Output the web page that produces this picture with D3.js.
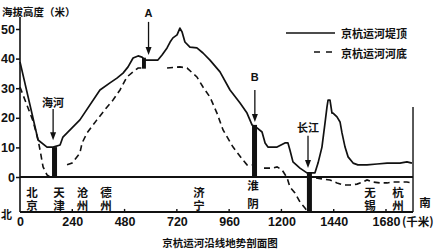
<!DOCTYPE html>
<html><head><meta charset="utf-8">
<script src="https://cdn.jsdelivr.net/npm/d3@7"></script>
<style>html,body{margin:0;padding:0;background:#fff;} svg{display:block;}</style>
</head><body><svg id="c" width="436" height="251"></svg>
<script>
// ---------- data ----------
const xTicks = [0, 240, 480, 720, 960, 1200, 1440, 1680];
const yTicks = [0, 10, 20, 30, 40, 50];
const kmEnd = 1804;      // right end of the profile (km)
const elevFloor = -11.8; // bottom of the chart (m)

// 京杭运河堤顶 (embankment top): [km, m]
const crest = [[0,38.9],[83,12.5],[124,10.1],[152,10.1],[184,10.8],[197,13.5],[275,19.3],[367,29.4],[413,31.8],[445,33.4],[473,35.1],[496,37.2],[519,40.2],[542,40.9],[560,40.5],[574,39.5],[633,39.5],[652,41.2],[675,43.6],[689,45.6],[702,47],[721,48],[734,50.3],[744,49],[757,45.6],[780,43.9],[812,43.6],[840,41.9],[872,39.5],[918,35.5],[964,29.4],[1010,25],[1042,21.6],[1065,17.6],[1088,16.6],[1111,15.2],[1125,11.5],[1138,10.1],[1180,10.1],[1216,11.5],[1230,11.5],[1239,9.1],[1253,5.1],[1285,3],[1317,1.4],[1354,1.4],[1368,4.7],[1386,10.1],[1400,18.2],[1409,23.6],[1414,26],[1423,26],[1432,21.6],[1437,21.6],[1455,20.3],[1469,18.6],[1478,14.9],[1492,10.1],[1506,6.8],[1529,4.7],[1551,4.1],[1593,4.1],[1639,4.4],[1685,4.7],[1712,4.7],[1744,4.7],[1776,5.1],[1799,4.7]];

// 京杭运河河底 (canal bed): [km, m], null marks a break
const bed = [[0,30.4],[60,18.9],[83,12.5],[92,9.1],[106,3.4],[124,0.7],[138,0],[150,0],null,
  [216,4.1],[239,4.7],[275,8.1],[285,11.5],[308,14.9],[353,19.3],[399,23.6],[427,26],[459,29.4],[491,33.8],[519,35.5],[542,36.8],[560,36.8],null,
  [675,36.8],[734,37.2],[767,36.8],[812,33.8],[840,30.4],[872,27],[904,21.6],[932,15.9],[978,10.1],[1024,5.7],[1042,4.1],[1065,4.1],null,
  [1120,3],[1158,3],[1180,3.4],[1203,2.4],[1226,-0.3],[1239,-3.4],[1262,-5.4],[1285,-8.4],[1308,-10.5],[1322,-11.8],null,
  [1359,-0.3],[1391,-0.7],[1423,-1],[1455,-2],[1483,-2.7],[1515,-2.7],[1547,-2.4],[1574,-1.7],[1593,-1],[1620,-1.7],[1652,-2],[1685,-2],[1712,-1.7],[1776,-1.7],[1799,-2]];

// ship locks: km range and elevation range
const lockNames = ['天津', 'A', 'B', '长江'];
const lockKm = [[147,170],[560,578],[1065,1088],[1317,1340]];
const lockElev = [[0,10.1],[36.6,40.3],[0,17.6],[-11.8,1.4]];

// annotation arrows: label, km, text elevation, tail elevation, tip elevation
const arrowLabels = ['海河', 'A', 'B', '长江'];
const arrowKm = [152, 590, 1078, 1322];
const arrowElev = [[25.5,23,12.4],[55.5,52.4,41.2],[33.8,29.4,18.6],[16.9,13.9,3.0]];

// cities along the canal
const cityNames = ['北京','天津','沧州','德州','济宁','淮阴','无锡','杭州'];
const cityKm = [55, 179, 287, 395, 822, 1069, 1607, 1735];

// ---------- drawing ----------
const svg = d3.select('#c');
svg.append('rect').attr('width',436).attr('height',251).attr('fill','#fff');
const x = d3.scaleLinear().domain([0,1680]).range([20,386]);
const y = d3.scaleLinear().domain([0,50]).range([177,29]);
const CJK = '"Noto Sans CJK SC","Noto Sans CJK JP",sans-serif';
const NUM = '"Liberation Sans",Arial,sans-serif';
const ink = '#111';

// frame lines
const x0 = x(0), xE = x(kmEnd), yB = y(elevFloor);
svg.append('line').attr('x1',x0).attr('x2',x0).attr('y1',17).attr('y2',yB).attr('stroke',ink).attr('stroke-width',1.6);
svg.append('line').attr('x1',x0).attr('x2',xE).attr('y1',y(0)).attr('y2',y(0)).attr('stroke',ink).attr('stroke-width',1.8);
svg.append('line').attr('x1',x0).attr('x2',xE).attr('y1',yB).attr('y2',yB).attr('stroke',ink).attr('stroke-width',2);
svg.append('line').attr('x1',xE).attr('x2',xE).attr('y1',107).attr('y2',yB).attr('stroke',ink).attr('stroke-width',1.4);

// y axis
const ya = svg.append('g').attr('transform',`translate(${x0},0)`)
  .call(d3.axisLeft(y).tickValues(yTicks).tickSize(4).tickPadding(1).tickFormat(d3.format('d')));
ya.select('.domain').remove();
ya.selectAll('line').attr('stroke',ink).attr('stroke-width',1.5);
ya.selectAll('text').attr('font-family',NUM).attr('font-weight','bold').attr('font-size',12.5).attr('fill',ink);

// x axis (ticks pointing up, labels below)
const xa = svg.append('g').attr('transform',`translate(0,${yB})`)
  .call(d3.axisBottom(x).tickValues(xTicks).tickSize(0).tickPadding(5).tickFormat(d3.format('d')));
xa.select('.domain').remove();
xa.selectAll('text').attr('font-family',NUM).attr('font-weight','bold').attr('font-size',12.5).attr('fill',ink);
svg.append('g').selectAll('line').data(xTicks.slice(1)).join('line')
  .attr('x1',d=>x(d)).attr('x2',d=>x(d)).attr('y1',yB).attr('y2',yB-3).attr('stroke',ink).attr('stroke-width',1.4);

// axis words
svg.append('text').attr('x',402).attr('y',yB+14).attr('font-family',CJK).attr('font-weight','bold').attr('font-size',11.5).attr('fill',ink).text('(千米)');
svg.append('text').attr('x',1).attr('y',yB+2).attr('dominant-baseline','central').attr('font-family',CJK).attr('font-weight','bold').attr('font-size',11).attr('fill',ink).text('北');
svg.append('text').attr('x',425).attr('y',202).attr('text-anchor','middle').attr('dominant-baseline','central').attr('font-family',CJK).attr('font-weight','bold').attr('font-size',11.5).attr('fill',ink).text('南');
svg.append('text').attr('x',2).attr('y',11).attr('dominant-baseline','central').attr('font-family',CJK).attr('font-weight','bold').attr('font-size',10.5).attr('fill',ink).text('海拔高度（米）');
svg.append('text').attr('x',220).attr('y',242.5).attr('text-anchor','middle').attr('dominant-baseline','central').attr('font-family',CJK).attr('font-weight','bold').attr('font-size',10.5).attr('fill',ink).text('京杭运河沿线地势剖面图');

// profile lines
const line = d3.line().defined(d=>d!==null).x(d=>x(d[0])).y(d=>y(d[1]));
svg.append('path').datum(bed).attr('d',line).attr('fill','none').attr('stroke',ink).attr('stroke-width',1.6).attr('stroke-dasharray','6,4');
svg.append('path').datum(crest).attr('d',line).attr('fill','none').attr('stroke',ink).attr('stroke-width',1.7).attr('stroke-linejoin','round');

// locks
svg.append('g').selectAll('rect').data(lockNames).join('rect')
  .attr('x',(d,i)=>x(lockKm[i][0])).attr('width',(d,i)=>x(lockKm[i][1])-x(lockKm[i][0]))
  .attr('y',(d,i)=>y(lockElev[i][1])).attr('height',(d,i)=>y(lockElev[i][0])-y(lockElev[i][1]))
  .attr('fill',ink);

// arrows
const ag = svg.append('g');
arrowLabels.forEach((lab,i)=>{
  const ax = x(arrowKm[i]);
  const [te,tl,tp] = arrowElev[i];
  const isLetter = lab.length===1;
  ag.append('text').attr('x',ax).attr('y',y(te)).attr('text-anchor','middle').attr('dominant-baseline','central')
    .attr('font-family', isLetter? NUM : CJK).attr('font-weight','bold').attr('font-size',11).attr('fill',ink).text(lab);
  ag.append('line').attr('x1',ax).attr('x2',ax).attr('y1',y(tl)).attr('y2',y(tp)-5).attr('stroke',ink).attr('stroke-width',1.3);
  ag.append('path').attr('d',`M${ax-3},${y(tp)-8}L${ax+3},${y(tp)-8}L${ax},${y(tp)}Z`).attr('fill',ink);
});

// cities (vertical two-character labels, vertical writing mode)
const cityTop = {'淮阴':180};
const citySpacing = {'淮阴':6};
const cg = svg.append('g');
cityNames.forEach((nm,i)=>{
  cg.append('text')
    .attr('x',x(cityKm[i])).attr('y',cityTop[nm] || 187)
    .attr('writing-mode','tb').style('writing-mode','vertical-rl')
    .attr('letter-spacing', citySpacing[nm]!==undefined ? citySpacing[nm] : 1.5)
    .attr('font-family',CJK).attr('font-weight','bold').attr('font-size',11.5).attr('fill',ink).text(nm);
});

// legend
const lg = svg.append('g');
lg.append('line').attr('x1',286).attr('x2',335).attr('y1',33).attr('y2',33).attr('stroke',ink).attr('stroke-width',1.7);
lg.append('line').attr('x1',314).attr('x2',336).attr('y1',52).attr('y2',52).attr('stroke',ink).attr('stroke-width',1.7).attr('stroke-dasharray','6,6');
lg.append('text').attr('x',341).attr('y',33).attr('dominant-baseline','central').attr('font-family',CJK).attr('font-weight','bold').attr('font-size',11).attr('fill',ink).text('京杭运河堤顶');
lg.append('text').attr('x',341).attr('y',53).attr('dominant-baseline','central').attr('font-family',CJK).attr('font-weight','bold').attr('font-size',11).attr('fill',ink).text('京杭运河河底');
</script></body></html>
